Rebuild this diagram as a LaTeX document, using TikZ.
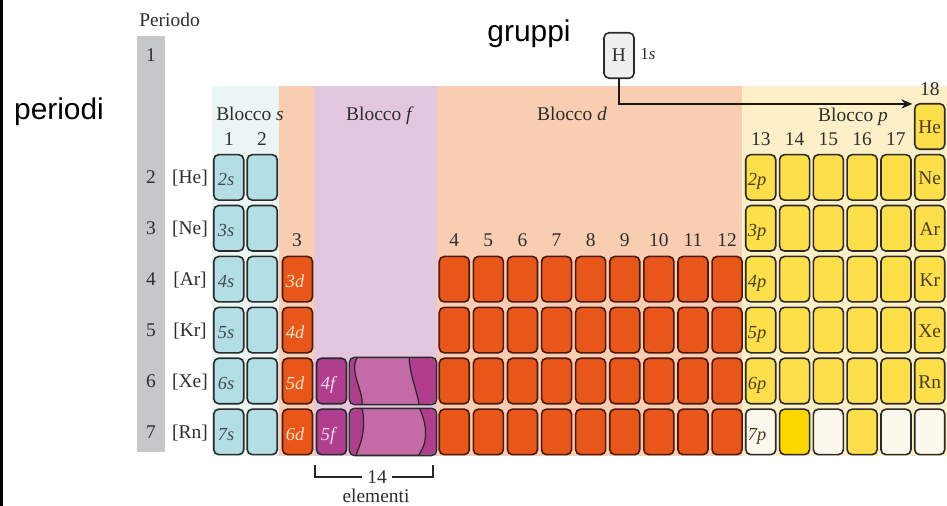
\documentclass[tikz,border=0pt]{standalone}
\usepackage{fontspec}
\setmainfont{Liberation Serif}
\newfontfamily\sansf{Liberation Sans}
\usetikzlibrary{arrows.meta}
\definecolor{sbg}{HTML}{EBF5F4}
\definecolor{scell}{HTML}{B3DEE4}
\definecolor{dbg}{HTML}{F8CDB1}
\definecolor{dcell}{HTML}{E8561A}
\definecolor{fbg}{HTML}{E3C7DF}
\definecolor{fcell}{HTML}{B03D8D}
\definecolor{fmid}{HTML}{C46AA6}
\definecolor{pbg}{HTML}{FDF0C8}
\definecolor{pcell}{HTML}{FDDF4A}
\definecolor{pbright}{HTML}{FDD800}
\definecolor{pcream}{HTML}{FDF8EE}
\definecolor{gbar}{HTML}{C6C7C9}
\definecolor{txt}{HTML}{2E2E2E}
\definecolor{edgec}{HTML}{2B2B2B}
\definecolor{dedge}{HTML}{4A1A0C}
\definecolor{slab}{HTML}{3E4A55}
\definecolor{dlab}{HTML}{FDE3C2}
\definecolor{flab}{HTML}{F8DDF0}
\definecolor{plab}{HTML}{4A3E1E}
\definecolor{hbox}{HTML}{EFEFEF}
\tikzset{
  cellbox/.style={draw=edgec, line width=1.6bp, rounded corners=5bp,
    minimum width=30bp, minimum height=45.5bp, inner sep=0pt},
  txtlab/.style={font=\fontsize{19.5}{21}\selectfont, text=txt, inner sep=0pt, anchor=base},
  cellab/.style={font=\fontsize{18.5}{20}\selectfont\itshape, inner sep=0pt, anchor=base},
  gaslab/.style={font=\fontsize{19.5}{20}\selectfont, text=plab, inner sep=0pt, anchor=base},
  bigsans/.style={font=\sansf\fontsize{30}{32}\selectfont, text=black, inner sep=0pt, anchor=base},
  wave/.style={draw=black!85, line width=1.2bp},
  connector/.style={line width=1.8bp, draw=black!90},
}
\begin{document}
\begin{tikzpicture}[x=1bp,y=-1bp]
\useasboundingbox (0,0) rectangle (947,506);
\fill[white] (0,0) rectangle (947,506);
\fill[black] (0,0) rectangle (2.5,506);
% block backgrounds
\fill[sbg] (212,86) rectangle (279,456);
\fill[dbg] (279,86) rectangle (314,456);
\fill[fbg] (314,86) rectangle (437,456);
\fill[dbg] (437,86) rectangle (742,456);
\fill[pbg] (742,86) rectangle (947,456);
% period bar
\fill[gbar] (137,36) rectangle (165,452);
% titles
\node[txtlab] (periodo) at (169.5,27) {Periodo};
\node[bigsans] (periodi) at (59,120) {periodi};
\node[bigsans] (gruppi) at (529,42) {gruppi};
\node[txtlab] (bs) at (250,121) {Blocco \textit{s}};
\node[txtlab] (bf) at (380,121) {Blocco \textit{f}};
\node[txtlab] (bd) at (572,121) {Blocco \textit{d}};
\node[txtlab] (bp) at (853,122) {Blocco \textit{p}};
\node[txtlab] (p1) at (151,62) {1};
% group numbers
\node[txtlab] (g1) at (229,146) {1};
\node[txtlab] (g2) at (262,146) {2};
\node[txtlab] (g3) at (297,247) {3};
\foreach \i in {4,...,12}{
  \pgfmathsetmacro\xc{454.25+34.1*(\i-4)}
  \node[txtlab] (g\i) at (\xc,247) {\i};
}
\foreach \j in {13,...,17}{
  \pgfmathsetmacro\xc{760.75+33.8*(\j-13)}
  \node[txtlab] (g\j) at (\xc,146) {\j};
}
\node[txtlab] (g18) at (929.75,96) {18};
% period numbers and cores
\foreach \k/\core in {2/He,3/Ne,4/Ar,5/Kr,6/Xe,7/Rn}{
  \pgfmathsetmacro\yb{103+50.9*(\k-1)+30}
  \node[txtlab] (p\k) at (151,\yb) {\k};
  \node[txtlab] (core\k) at (190,\yb) {[\core]};
}
% s block
\foreach \k in {2,...,7}{
  \pgfmathsetmacro\yc{126.5+50.9*(\k-1)}
  \pgfmathsetmacro\yb{103+50.9*(\k-1)+32}
  \node[cellbox, fill=scell] (sa\k) at (228.75,\yc) {};
  \node[cellbox, fill=scell] (sb\k) at (262.25,\yc) {};
  \node[cellab, text=slab] (ls\k) at (226,\yb) {\k s};
}
% d block column 3
\foreach \k in {4,...,7}{
  \pgfmathsetmacro\yc{126.5+50.9*(\k-1)}
  \pgfmathsetmacro\yb{103+50.9*(\k-1)+32}
  \pgfmathtruncatemacro\n{\k-1}
  \node[cellbox, draw=dedge, fill=dcell] (dc\k) at (297.5,\yc) {};
  \node[cellab, text=dlab] (ld\k) at (295,\yb) {\n d};
}
% d block main
\foreach \i in {4,...,12}{
  \foreach \k in {4,...,7}{
    \pgfmathsetmacro\xc{454.25+34.1*(\i-4)}
    \pgfmathsetmacro\yc{126.5+50.9*(\k-1)}
    \node[cellbox, draw=dedge, fill=dcell] (d\i r\k) at (\xc,\yc) {};
  }
}
% f block
\foreach \k/\n in {6/4,7/5}{
  \pgfmathsetmacro\yc{126.5+50.9*(\k-1)}
  \pgfmathsetmacro\yb{103+50.9*(\k-1)+32}
  \node[cellbox, fill=fcell] (fa\k) at (331.5,\yc) {};
  \node[cellab, text=flab] (lf\k) at (328,\yb) {\n f};
  \node[cellbox, draw=none, fill=fcell, minimum width=85.5bp] (fw\k) at (393,\yc) {};
}
\begin{scope}
  \clip[rounded corners=5bp] (fw6.north west) rectangle (fw6.south east);
  \fill[fmid] (358,356) .. controls (348,372) and (364,390) .. (362,406)
     -- (419,406) .. controls (418,392) and (410,378) .. (409,356) -- cycle;
  \draw[wave] (358,356) .. controls (348,372) and (364,390) .. (362,406);
  \draw[wave] (409,356) .. controls (410,378) and (418,392) .. (419,406);
\end{scope}
\begin{scope}
  \clip[rounded corners=5bp] (fw7.north west) rectangle (fw7.south east);
  \fill[fmid] (362,407) .. controls (366,428) and (362,442) .. (355,457)
     -- (417,457) .. controls (427,446) and (429,428) .. (419,407) -- cycle;
  \draw[wave] (362,407) .. controls (366,428) and (362,442) .. (355,457);
  \draw[wave] (419,407) .. controls (429,428) and (427,446) .. (417,457);
\end{scope}
\draw[draw=edgec, line width=1.6bp, rounded corners=5bp] (fw6.north west) rectangle (fw6.south east);
\draw[draw=edgec, line width=1.6bp, rounded corners=5bp] (fw7.north west) rectangle (fw7.south east);
% p block
\foreach \j in {13,...,17}{
  \foreach \k in {2,...,6}{
    \pgfmathsetmacro\xc{760.75+33.8*(\j-13)}
    \pgfmathsetmacro\yc{126.5+50.9*(\k-1)}
    \node[cellbox, fill=pcell] (q\j r\k) at (\xc,\yc) {};
  }
}
\foreach \k in {1,...,6}{
  \pgfmathsetmacro\yc{126.5+50.9*(\k-1)}
  \node[cellbox, fill=pcell] (q18r\k) at (929.75,\yc) {};
}
\foreach \j/\c in {13/pcream,14/pbright,15/pcream,16/pcell,17/pcream,18/pcream}{
  \pgfmathsetmacro\xc{760.75+33.8*(\j-13)}
  \pgfmathsetmacro\yc{126.5+50.9*6}
  \node[cellbox, fill=\c] (q\j r7) at (\xc,\yc) {};
}
\foreach \k in {2,...,7}{
  \pgfmathsetmacro\yb{103+50.9*(\k-1)+32}
  \node[cellab, text=plab] (lp\k) at (757,\yb) {\k p};
}
\foreach \k/\g in {1/He,2/Ne,3/Ar,4/Kr,5/Xe,6/Rn}{
  \pgfmathsetmacro\yb{103+50.9*(\k-1)+31}
  \node[gaslab] (gas\k) at (929.75,\yb) {\g};
}
% hydrogen
\node[cellbox, fill=hbox, font=\fontsize{19.5}{21}\selectfont, text=txt] (H) at (619,55.5) {H};
\node[inner sep=0pt, anchor=base, font=\fontsize{17}{18}\selectfont, text=txt] (h1s) at (648,60) {1\textit{s}};
\draw[connector, -{Stealth[length=11bp,width=9bp]}] (H.south) |- ([xshift=-1.5bp,yshift=-1bp]q18r1.north west);
% 14 elementi
\node[txtlab, anchor=center, inner xsep=5bp] (n14) at (377,477) {14};
\coordinate (bl) at (315,465);
\coordinate (br) at (433,465);
\draw[line width=2bp, draw=black!85] (bl) |- (n14.west);
\draw[line width=2bp, draw=black!85] (br) |- (n14.east);
\node[txtlab] (elem) at (376,502) {elementi};
\end{tikzpicture}
\end{document}
